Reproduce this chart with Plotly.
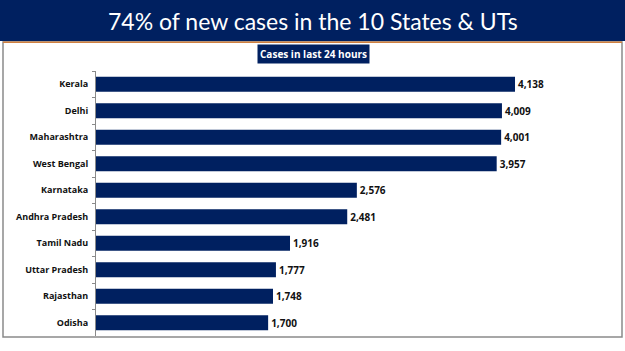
import plotly.graph_objects as go

states = ["Kerala", "Delhi", "Maharashtra", "West Bengal", "Karnataka",
          "Andhra Pradesh", "Tamil Nadu", "Uttar Pradesh", "Rajasthan", "Odisha"]
cases = [4138, 4009, 4001, 3957, 2576, 2481, 1916, 1777, 1748, 1700]
title_text = "74% of new cases in the 10 States & UTs"
subtitle_text = "Cases in last 24 hours"

W, H = 625, 351
L, R, T, B = 96, 600, 71, 336  # plot area in pixels
NAVY = "#002060"

def px(x):
    return (x - L) / (R - L)

def py(y):
    return (B - y) / (B - T)

fig = go.Figure(go.Bar(
    x=cases, y=states, orientation="h",
    marker=dict(color=NAVY, line=dict(width=0)),
    texttemplate="%{x:,}", textposition="outside",
    textfont=dict(family="Open Sans", size=10, color="#111111", weight="bold"),
    cliponaxis=False,
))

shapes = [
    dict(type="rect", xref="paper", yref="paper", x0=px(3), x1=px(622), y0=py(337), y1=py(42),
         line=dict(color="#8a8a8a", width=1.5), fillcolor="rgba(0,0,0,0)", layer="below"),
    dict(type="rect", xref="paper", yref="paper", x0=px(-2), x1=px(627), y0=py(41), y1=py(-2),
         line=dict(width=0), fillcolor=NAVY),
    dict(type="line", xref="paper", yref="paper", x0=px(3), x1=px(622), y0=py(42.3), y1=py(42.3),
         line=dict(color="#d08040", width=1.5)),
]

annotations = [
    dict(text=title_text, xref="paper", yref="paper", x=px(313), y=py(21),
         xanchor="center", yanchor="middle", showarrow=False,
         font=dict(family="Lato", size=23, color="white")),
    dict(text=subtitle_text, xref="paper", yref="paper", x=px(313), y=py(54.5),
         xanchor="center", yanchor="middle", showarrow=False,
         bgcolor=NAVY, borderpad=2,
         font=dict(family="Open Sans", size=10, color="white", weight="bold")),
]

fig.update_layout(
    width=W, height=H,
    margin=dict(l=L, r=W - R, t=T, b=H - B, pad=0, autoexpand=False),
    paper_bgcolor="white", plot_bgcolor="white",
    bargap=0.43, showlegend=False,
    shapes=shapes, annotations=annotations,
    xaxis=dict(range=[0, (R - L) / 0.10126], visible=False, fixedrange=True, automargin=False),
    yaxis=dict(autorange="reversed", showline=True, linecolor="#8a8a8a", linewidth=1,
               ticks="outside", tickson="boundaries", ticklen=3, tickcolor="#8a8a8a",
               ticklabelstandoff=5, automargin=False,
               tickfont=dict(family="Open Sans", size=9, color="#111111", weight="bold"),
               showgrid=False, zeroline=False),
)

fig.write_html("out.html")
